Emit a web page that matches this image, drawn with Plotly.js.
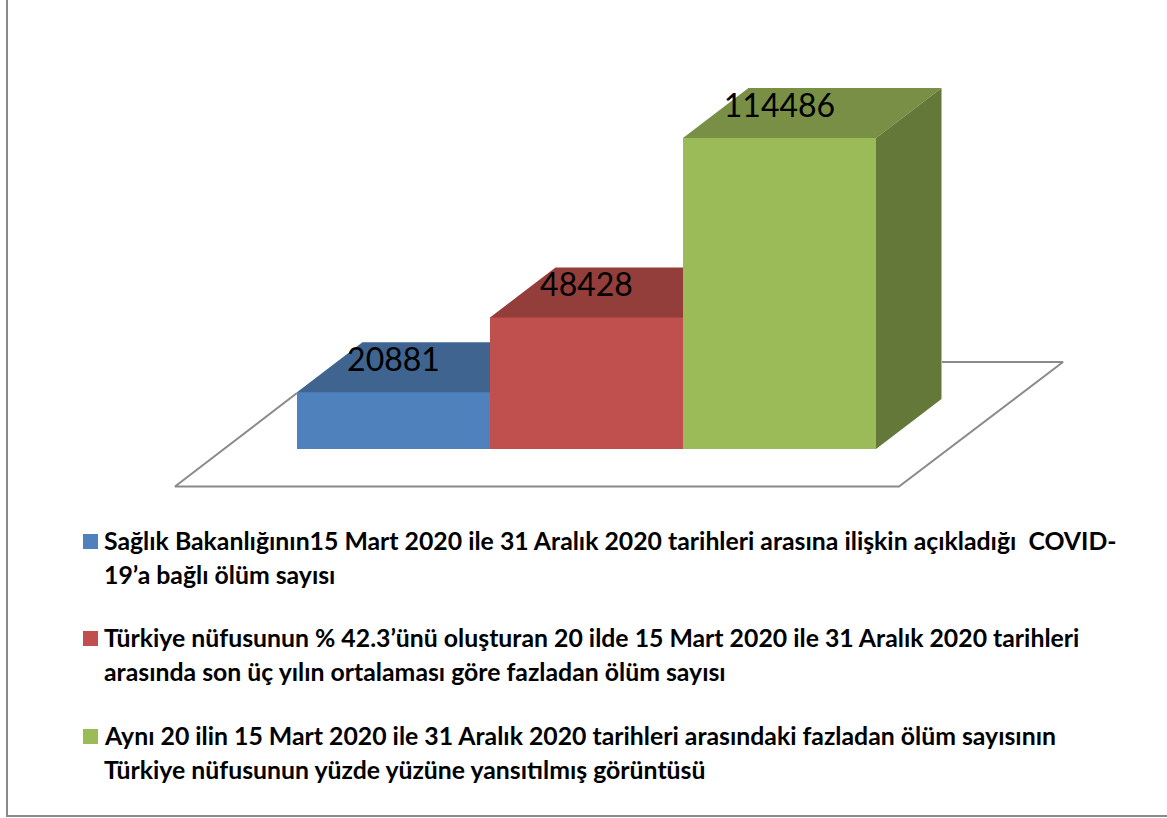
<!DOCTYPE html>
<html>
<head>
<meta charset="utf-8">
<script src="https://cdn.plot.ly/plotly-3.0.1.min.js"></script>
<style>html,body{margin:0;padding:0;background:#fff;overflow:hidden}#chart{width:1167px;height:818px}</style>
</head>
<body>
<div id="chart"></div>
<script>
// Data
const seriesNames = [
  "Sağlık Bakanlığının15 Mart 2020 ile 31 Aralık 2020 tarihleri arasına ilişkin açıkladığı COVID-19’a bağlı ölüm sayısı",
  "Türkiye nüfusunun % 42.3’ünü oluşturan 20 ilde 15 Mart 2020 ile 31 Aralık 2020 tarihleri arasında son üç yılın ortalaması göre fazladan ölüm sayısı",
  "Aynı 20 ilin 15 Mart 2020 ile 31 Aralık 2020 tarihleri arasındaki fazladan ölüm sayısının Türkiye nüfusunun yüzde yüzüne yansıtılmış görüntüsü"
];
const legendLines = [
  ["Sağlık Bakanlığının15 Mart 2020 ile 31 Aralık 2020 tarihleri arasına ilişkin açıkladığı&nbsp;&nbsp;COVID-", "19’a bağlı ölüm sayısı"],
  ["Türkiye nüfusunun % 42.3’ünü oluşturan 20 ilde 15 Mart 2020 ile 31 Aralık 2020 tarihleri", "arasında son üç yılın ortalaması göre fazladan ölüm sayısı"],
  ["Aynı 20 ilin 15 Mart 2020 ile 31 Aralık 2020 tarihleri arasındaki fazladan ölüm sayısının", "Türkiye nüfusunun yüzde yüzüne yansıtılmış görüntüsü"]
];
const values = [20881, 48428, 114486];
const frontColors = ["#4F81BD", "#C0504D", "#9BBB59"];
const topColors = ["#3E648F", "#943E3C", "#788F45"];
const sideColor = "#64783A";

// Layout constants (page pixels)
const W = 1167, H = 818;
const barLeftPx = 297, barWidthPx = 193, basePx = 449, pxPerUnit = 311 / 114486;
const depthX = 65.5, depthY = 50, labelLiftPx = 13.5;
const xOfPx = p => (p - barLeftPx) / barWidthPx - 0.5;
const yOfPx = p => (basePx - p) / pxPerUnit;
const dX = depthX / barWidthPx, dY = depthY / pxPerUnit;

const traces = [];
// Floor outline, open where the bars hide it
const floorPx = [[297,393],[175,486.5],[899,486.5],[1063,362],[942,362]];
traces.push({type:"scatter", mode:"lines", x:floorPx.map(p=>xOfPx(p[0])), y:floorPx.map(p=>yOfPx(p[1])),
  line:{color:"#8A8A8A", width:2}, hoverinfo:"skip", showlegend:false});

// Front faces
values.forEach((v,i)=>traces.push({type:"bar", name:seriesNames[i], x:[i], y:[v], width:1,
  marker:{color:frontColors[i], line:{width:0}}, showlegend:false}));

// Top faces: each is cut at the front face of the next, taller, bar
values.forEach((v,i)=>{
  const l = i-0.5, r = i+0.5, last = i===values.length-1;
  traces.push({type:"scatter", mode:"lines", fill:"toself", fillcolor:topColors[i], line:{width:0},
    x: last ? [l, l+dX, r+dX, r, l] : [l, l+dX, r, r, l],
    y: [v, v+dY, v+dY, v, v], hoverinfo:"skip", showlegend:false});
});
// Side face of the last bar
{
  const i = values.length-1, r = i+0.5, v = values[i];
  traces.push({type:"scatter", mode:"lines", fill:"toself", fillcolor:sideColor, line:{width:0},
    x:[r, r+dX, r+dX, r, r], y:[v, v+dY, dY, 0, v], hoverinfo:"skip", showlegend:false});
}
// Value labels
traces.push({type:"scatter", mode:"text", x:values.map((v,i)=>i), y:values.map(v=>v+labelLiftPx/pxPerUnit),
  text:values.map(String), textposition:"top center",
  textfont:{family:"Lato, sans-serif", size:32, color:"#000"}, hoverinfo:"skip", showlegend:false});

// Legend text and swatches
const lineYs = [[541,575],[638,672],[736,770]];
const annotations = [], shapes = [];
legendLines.forEach((pair,i)=>{
  pair.forEach((t,j)=>annotations.push({xref:"paper", yref:"paper", x:103/W, y:1-(lineYs[i][j]-1)/H,
    xanchor:"left", yanchor:"middle", showarrow:false, align:"left", text:t,
    font:{family:"Lato, sans-serif", size:24.8, color:"#000", weight:700}, borderpad:0}));
  shapes.push({type:"rect", xref:"paper", yref:"paper", x0:83/W, x1:98/W,
    y0:1-(lineYs[i][0]+8)/H, y1:1-(lineYs[i][0]-7)/H, fillcolor:frontColors[i], line:{width:0}});
});
// Outer frame
[[7,0,7,817],[7,816,1167,816]].forEach(s=>shapes.push({type:"line", xref:"paper", yref:"paper",
  x0:s[0]/W, y0:1-s[1]/H, x1:s[2]/W, y1:1-s[3]/H, line:{color:"#8A8A8A", width:2}}));

Plotly.newPlot("chart", traces, {
  width:W, height:H, margin:{l:0,r:0,t:0,b:0,pad:0},
  paper_bgcolor:"#fff", plot_bgcolor:"#fff", showlegend:false, barmode:"overlay", bargap:0,
  xaxis:{range:[xOfPx(0), xOfPx(W)], visible:false, fixedrange:true},
  yaxis:{range:[yOfPx(H), yOfPx(0)], visible:false, fixedrange:true},
  annotations, shapes
}, {displayModeBar:false, responsive:false});
</script>
</body>
</html>
